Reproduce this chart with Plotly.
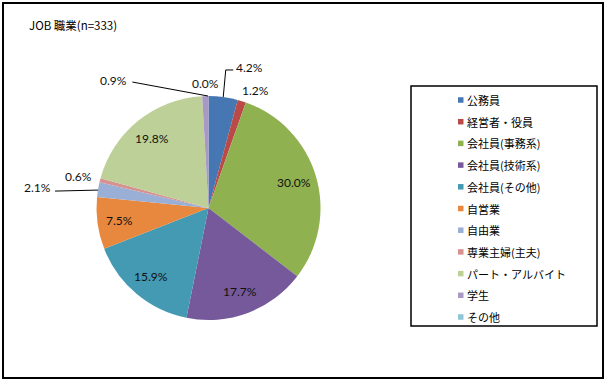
import math
import plotly.graph_objects as go

# ---------------- data ----------------
title_text = "JOB 職業(n=333)"
categories = ["公務員", "経営者・役員", "会社員(事務系)", "会社員(技術系)", "会社員(その他)",
              "自営業", "自由業", "専業主婦(主夫)", "パート・アルバイト", "学生", "その他"]
percentages = [4.2, 1.2, 30.0, 17.7, 15.9, 7.5, 2.1, 0.6, 19.8, 0.9, 0.0]

# ---------------- styles ----------------
colors = ["#4777B3", "#BA4A47", "#90B150", "#75599A", "#4499B3", "#E8883F",
          "#9AAFD6", "#D6928F", "#BCD097", "#A898C4", "#8EC6D6"]

W, H = 610, 384
CX, CY, R = 208.5, 208.0, 112.0     # pie centre / radius in pixels
INSIDE_F = 0.80                      # radial position of inside labels

# per-slice label placement: None -> inside; otherwise offset from slice edge point
label_style = [
    dict(off=(11, -29), anchor="left", leader=[(0, 0), (2.5, -27), (10, -27)]),
    dict(off=(13.7, -11), anchor="center", leader=None),
    None, None, None, None,
    dict(off=(-45, -2.5), anchor="right", leader=[(0, 0.5), (-43, 1.5)]),
    dict(off=(-21.5, -3.3), anchor="center", leader=None),
    None,
    dict(off=(-76.5, -16), anchor="right", leader=[(2.8, 0), (-73, -14)]),
    dict(off=(-3, -13), anchor="center", leader=None),
]

LABEL_FONT = dict(family="Lato, Open Sans, sans-serif", size=12, color="#111111")
JP_FONT = dict(family="Noto Sans CJK JP, sans-serif", size=11, color="#000000")
TITLE_FONT = dict(family="Noto Sans CJK JP, sans-serif", size=11.5, color="#000000")


def px(x):
    return x / W


def py(y):
    return 1 - y / H


fig = go.Figure()
fig.add_trace(go.Pie(
    labels=categories,
    values=percentages,
    sort=False,
    direction="clockwise",
    rotation=0,
    marker=dict(colors=colors, line=dict(width=0)),
    textinfo="none",
    showlegend=False,
    domain=dict(x=[px(CX - R), px(CX + R)], y=[py(CY + R), py(CY - R)]),
))

annotations = []
shapes = []

# outer frame
shapes.append(dict(type="rect", xref="paper", yref="paper",
                   x0=px(3), x1=px(603), y0=py(378), y1=py(3),
                   line=dict(color="#000000", width=2)))

# pie labels computed from the data angles
total = sum(percentages)
cum = 0.0
for i, v in enumerate(percentages):
    mid = (cum + v / 2) / total
    cum += v
    ang = mid * 2 * math.pi
    sx, sy = math.sin(ang), -math.cos(ang)
    txt = f"{v:.1f}%"
    st = label_style[i]
    if st is None:
        lx, ly = CX + sx * R * INSIDE_F, CY + sy * R * INSIDE_F
        annotations.append(dict(x=px(lx), y=py(ly), xref="paper", yref="paper",
                                text=txt, showarrow=False, xanchor="center",
                                yanchor="middle", font=LABEL_FONT))
    else:
        ex, ey = CX + sx * R, CY + sy * R
        lx, ly = ex + st["off"][0], ey + st["off"][1]
        annotations.append(dict(x=px(lx), y=py(ly), xref="paper", yref="paper",
                                text=txt, showarrow=False, xanchor=st["anchor"],
                                yanchor="middle", font=LABEL_FONT))
        if st["leader"]:
            pts = [(ex + dx, ey + dy) for dx, dy in st["leader"]]
            path = "M " + " L ".join(f"{px(a)},{py(b)}" for a, b in pts)
            shapes.append(dict(type="path", xref="paper", yref="paper", path=path,
                               line=dict(color="#000000", width=1)))

# title
annotations.append(dict(x=px(26.5), y=py(25), xref="paper", yref="paper",
                        text=title_text, showarrow=False, xanchor="left",
                        yanchor="middle", font=TITLE_FONT))

# legend box
LEG_X0, LEG_Y0, LEG_X1, LEG_Y1 = 411, 86, 597, 326
shapes.append(dict(type="rect", xref="paper", yref="paper",
                   x0=px(LEG_X0), x1=px(LEG_X1), y0=py(LEG_Y1), y1=py(LEG_Y0),
                   line=dict(color="#000000", width=1.5)))
LEG_FIRST, LEG_STEP = 100.0, 21.7
for i, cat in enumerate(categories):
    yc = LEG_FIRST + i * LEG_STEP
    shapes.append(dict(type="rect", xref="paper", yref="paper",
                       x0=px(458), x1=px(463.5), y0=py(yc + 2.75), y1=py(yc - 2.75),
                       fillcolor=colors[i], line=dict(width=0)))
    annotations.append(dict(x=px(465), y=py(yc), xref="paper", yref="paper",
                            text=cat, showarrow=False, xanchor="left",
                            yanchor="middle", font=JP_FONT))

fig.update_layout(
    width=W, height=H,
    margin=dict(l=0, r=0, t=0, b=0),
    paper_bgcolor="#FFFFFF",
    plot_bgcolor="#FFFFFF",
    showlegend=False,
    annotations=annotations,
    shapes=shapes,
)

fig.write_html("out.html")
